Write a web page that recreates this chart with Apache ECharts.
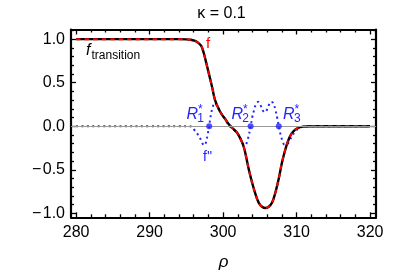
<!DOCTYPE html>
<html>
<head>
<meta charset="utf-8">
<script src="https://cdn.jsdelivr.net/npm/echarts@6/dist/echarts.min.js"></script>
<style>
html,body{margin:0;padding:0;background:#fff;}
#chart{width:407px;height:276px;}
</style>
</head>
<body>
<div id="chart"></div>
<script>
// ---- data ----
const rhoF = [280, 284, 288, 292, 294, 295, 295.6, 296.1, 296.5, 297.0, 297.3, 297.65, 298.1, 298.55, 298.9, 299.45, 299.9, 300.35, 300.8, 301.25, 301.9, 302.5, 302.85, 303.1, 303.5, 303.95, 304.4, 304.85, 305.3, 305.75, 306.2, 306.65, 307.1, 307.55, 308.0, 308.45, 308.9, 309.35, 309.8, 310.3, 311, 312, 314, 317, 320];
const fVals = [1, 1, 1, 1, 1, 0.998, 0.993, 0.982, 0.965, 0.925, 0.86, 0.745, 0.59, 0.43, 0.30, 0.19, 0.125, 0.075, 0.02, -0.02, -0.075, -0.17, -0.25, -0.34, -0.50, -0.65, -0.78, -0.88, -0.925, -0.94, -0.925, -0.88, -0.765, -0.61, -0.42, -0.27, -0.155, -0.08, -0.04, -0.015, -0.004, 0, 0, 0, 0];

const rhoD = [280, 285, 290, 294, 295.3, 295.8, 296.1, 296.6, 297.0, 297.4, 297.65, 297.9, 298.1, 298.25, 298.4, 298.55, 298.85, 299.2, 299.6, 300.2, 300.8, 301.5, 302.2, 302.6, 302.95, 303.35, 303.74, 303.95, 304.2, 304.5, 304.8, 305.1, 305.4, 305.65, 305.9, 306.2, 306.5, 306.8, 307.1, 307.35, 307.57, 307.8, 308.05, 308.35, 308.65, 309.0, 309.4, 309.8, 310.3, 311, 312, 315, 320];
const dVals = [0, 0, 0, 0, 0, -0.01, -0.045, -0.10, -0.16, -0.22, -0.19, -0.09, 0, 0.09, 0.16, 0.21, 0.27, 0.23, 0.17, 0.09, 0.01, -0.045, -0.11, -0.19, -0.22, -0.15, 0, 0.10, 0.18, 0.26, 0.28, 0.24, 0.18, 0.16, 0.18, 0.24, 0.28, 0.27, 0.19, 0.10, 0, -0.09, -0.16, -0.21, -0.21, -0.17, -0.11, -0.06, -0.025, -0.005, 0, 0, 0];

const rootRho = [298.1, 303.74, 307.57];
const rootVal = [0, 0, 0];

const xTicks = [280, 290, 300, 310, 320];
const yTicks = [-1, -0.5, 0, 0.5, 1];

// minor ticks (Mathematica style)
const xMinor = [];
for (let v = 280; v <= 320; v += 2) { if (v % 10 !== 0) xMinor.push(v); }
const yMinor = [];
for (let k = -10; k <= 11; k++) { if (k % 5 !== 0) yMinor.push(k / 10); }

const FONT = 'Liberation Sans, Arial, sans-serif';
const BLUE = '#2424ff';

const chart = echarts.init(document.getElementById('chart'), null, {renderer: 'canvas'});

function xAx(pos, ticks, len, withLine, withLabel) {
  return {
    type: 'value', position: pos, min: 279.3, max: 320.8,
    axisLine: {show: withLine, onZero: false, lineStyle: {color: '#000', width: 2.2}},
    axisTick: {show: true, inside: true, length: len, customValues: ticks, lineStyle: {color: '#000', width: 1.3}},
    axisLabel: withLabel ? {show: true, customValues: ticks, fontSize: 16, color: '#000', margin: 7, fontFamily: FONT} : {show: false},
    splitLine: {show: false}
  };
}
function yAx(pos, ticks, len, withLine, withLabel) {
  return {
    type: 'value', position: pos, min: -1.046, max: 1.111,
    axisLine: {show: withLine, onZero: false, lineStyle: {color: '#000', width: 2.2}},
    axisTick: {show: true, inside: true, length: len, customValues: ticks, lineStyle: {color: '#000', width: 1.3}},
    axisLabel: withLabel ? {show: true, customValues: ticks, fontSize: 16, color: '#000', margin: 6, fontFamily: FONT,
      formatter: v => (v < 0 ? '\u2212\u200a' : '') + Math.abs(v).toFixed(1)} : {show: false},
    splitLine: {show: false}
  };
}

const xa0 = xAx('bottom', xTicks, 5, true, true);
xa0.name = 'ρ';
xa0.nameLocation = 'middle';
xa0.nameGap = 36;
xa0.nameTextStyle = {fontStyle: 'italic', fontSize: 17, color: '#000', fontFamily: FONT};

const option = {
  animation: false,
  grid: {left: 71, top: 29.5, width: 305, height: 187.8, containLabel: false},
  xAxis: [xa0, xAx('bottom', xMinor, 3, false, false), xAx('top', xTicks, 5, true, false), xAx('top', xMinor, 3, false, false)],
  yAxis: [yAx('left', yTicks, 5, true, true), yAx('left', yMinor, 3, false, false), yAx('right', yTicks, 5, true, false), yAx('right', yMinor, 3, false, false)],
  series: [
    {
      type: 'line', data: [], z: 1, silent: true,
      markLine: {silent: true, symbol: ['none', 'none'], label: {show: false},
        lineStyle: {color: '#9a9a9a', width: 1.2, type: 'solid'}, data: [{yAxis: 0}]}
    },
    {
      type: 'line', z: 2, silent: true, showSymbol: false, smooth: 0.4,
      data: rhoD.map((x, i) => [x, dVals[i]]),
      lineStyle: {color: BLUE, width: 2, type: [2, 3.4]}
    },
    {
      type: 'line', z: 3, silent: true, showSymbol: false, smooth: 0.4,
      data: rhoF.map((x, i) => [x, fVals[i]]),
      lineStyle: {color: '#000', width: 2.4}
    },
    {
      type: 'line', z: 4, silent: true, showSymbol: false, smooth: 0.4,
      data: rhoF.map((x, i) => [x, fVals[i]]),
      lineStyle: {color: '#ff0000', width: 2, type: [4.5, 4]}
    },
    {
      type: 'scatter', z: 5, silent: true, symbolSize: 6,
      data: rootRho.map((x, i) => [x, rootVal[i]]),
      itemStyle: {color: BLUE}
    }
  ],
  graphic: [
    {type: 'text', x: 221.5, y: 13.5, style: {text: 'κ = 0.1', font: '16px ' + FONT, fill: '#000', align: 'center', verticalAlign: 'middle'}},
    {type: 'text', x: 206, y: 43.5, style: {text: 'f', font: '15px ' + FONT, fill: '#ff0000', align: 'left', verticalAlign: 'middle'}},
    {type: 'text', x: 86, y: 51, style: {text: 'f', font: 'italic 16px ' + FONT, fill: '#000', align: 'left', verticalAlign: 'middle'}},
    {type: 'text', x: 91.5, y: 56, style: {text: 'transition', font: '12px ' + FONT, fill: '#000', align: 'left', verticalAlign: 'middle'}},
    {type: 'text', x: 203, y: 157, style: {text: "f''", font: '14px ' + FONT, fill: BLUE, align: 'left', verticalAlign: 'middle'}},
    {type: 'text', x: 186.5, y: 114.5, style: {text: 'R', font: 'italic 16px ' + FONT, fill: BLUE, align: 'left', verticalAlign: 'middle'}},
    {type: 'text', x: 197.3, y: 119, style: {text: '1', font: '12px ' + FONT, fill: BLUE, align: 'left', verticalAlign: 'middle'}},
    {type: 'text', x: 198, y: 110, style: {text: '*', font: '12px ' + FONT, fill: BLUE, align: 'left', verticalAlign: 'middle'}},
    {type: 'text', x: 231.5, y: 114.5, style: {text: 'R', font: 'italic 16px ' + FONT, fill: BLUE, align: 'left', verticalAlign: 'middle'}},
    {type: 'text', x: 242.3, y: 119, style: {text: '2', font: '12px ' + FONT, fill: BLUE, align: 'left', verticalAlign: 'middle'}},
    {type: 'text', x: 243, y: 110, style: {text: '*', font: '12px ' + FONT, fill: BLUE, align: 'left', verticalAlign: 'middle'}},
    {type: 'text', x: 283, y: 114.5, style: {text: 'R', font: 'italic 16px ' + FONT, fill: BLUE, align: 'left', verticalAlign: 'middle'}},
    {type: 'text', x: 294, y: 119, style: {text: '3', font: '12px ' + FONT, fill: BLUE, align: 'left', verticalAlign: 'middle'}},
    {type: 'text', x: 294.5, y: 110, style: {text: '*', font: '12px ' + FONT, fill: BLUE, align: 'left', verticalAlign: 'middle'}}
  ]
};
chart.setOption(option);
</script>
</body>
</html>
